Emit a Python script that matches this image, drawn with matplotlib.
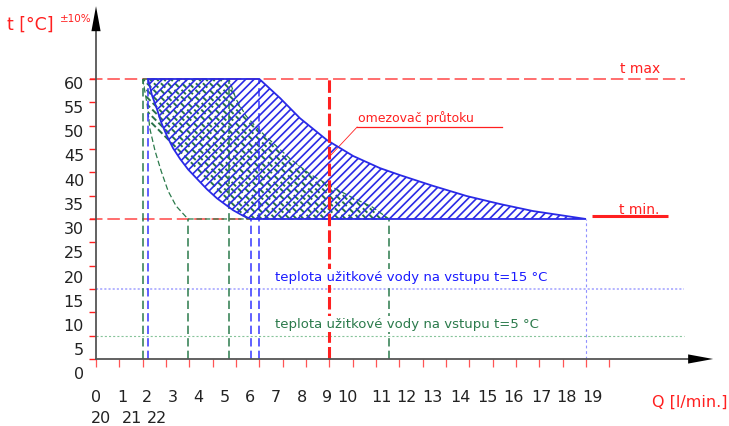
import numpy as np
import matplotlib.pyplot as plt
from matplotlib.patches import Polygon
from matplotlib.collections import LineCollection

plt.rcParams['font.family'] = ['DejaVu Sans']
plt.rcParams['hatch.linewidth'] = 1.2
plt.rcParams['lines.scale_dashes'] = False

# osy
y_ticks = np.arange(0, 65, 5)
y_labels = ['60', '55', '50', '45', '40', '35', '30', '25', '20', '15', '10', '5', '0']
x_ticks = np.arange(0, 23)
x_labels_row1 = [str(i) for i in range(20)]
x_labels_row2 = ['20', '21', '22']

t_max = 60
t_min = 30
t_in_15 = 15
t_in_5 = 5
q_limit = 10  # omezovac prutoku

# modra oblast (vstup 15 °C)
blue_left_x = [2.23, 2.40, 2.61, 2.80, 3.04, 3.30, 3.60, 3.95, 4.33, 4.75, 5.19, 5.87, 6.30, 6.64]
blue_left_y = [60, 56.5, 53.6, 50.6, 47.8, 45.2, 42.9, 40.6, 38.6, 36.4, 34.4, 31.9, 30.7, 30]
blue_right_x = [7.0, 7.89, 8.74, 9.90, 11.02, 12.17, 13.03, 14.44, 15.90, 17.32, 18.73, 21.0]
blue_right_y = [60, 55.9, 51.6, 46.9, 43.5, 40.9, 39.4, 37.1, 34.9, 33.2, 31.7, 30]

# zelena oblast (vstup 5 °C)
green_left_x = [2.0, 2.19, 2.31, 2.53, 2.79, 3.09, 3.43, 3.94]
green_left_y = [60, 54.6, 49.3, 44.6, 40.3, 36.0, 32.8, 30]
green_right_x = [5.7, 6.0, 6.43, 6.94, 7.54, 8.32, 9.17, 10.03, 11.02, 11.83, 12.56]
green_right_y = [60, 55.7, 52.1, 49.3, 46.5, 42.9, 39.6, 37.1, 34.5, 32.6, 30]

RED = '#ff2020'
LRED = '#ff5555'
BLUE = '#2a2ae6'
GREEN = '#2b7a4b'

fig = plt.figure(figsize=(7.29, 4.27), dpi=100)
ax = fig.add_axes([0, 0, 1, 1])
ax.set_xlim(-4.115, 27.13)
ax.set_ylim(-14.36, 77.14)

for s in ['top', 'right']:
    ax.spines[s].set_visible(False)
ax.spines['left'].set_position(('data', 0))
ax.spines['bottom'].set_position(('data', 0))
ax.spines['left'].set_bounds(0, 72)
ax.spines['bottom'].set_bounds(0, 25.6)
for s in ['left', 'bottom']:
    ax.spines[s].set_color('#555555')
    ax.spines[s].set_linewidth(1.3)
    ax.spines[s].set_zorder(6)

ax.set_yticks(y_ticks)
ax.set_xticks(x_ticks)
ax.tick_params(axis='y', direction='out', length=5, width=1.0, color=RED,
               labelleft=False)
ax.tick_params(axis='x', direction='out', length=6, width=0.9, color=LRED,
               labelbottom=False)

# sipky os
head = dict(arrowstyle='-|>,head_length=18,head_width=3.3', mutation_scale=1,
            color='black', lw=0, shrinkA=0, shrinkB=0)
ax.annotate('', xy=(0, 75.6), xytext=(0, 70), arrowprops=head, zorder=7)
ax.annotate('', xy=(26.45, 0), xytext=(25.0, 0), arrowprops=head, zorder=7)

# zelena oblast - carkovane srafovani
gx = green_left_x + green_right_x[::-1]
gy = green_left_y + green_right_y[::-1]
green_poly = Polygon(np.column_stack([gx, gy]), closed=True, fill=False,
                     edgecolor=GREEN, lw=0.9, linestyle=(0, (4, 2)), zorder=2)
ax.add_patch(green_poly)
segs = [[(c - 0.1, 60.5), (c + 6.1, 29.5)] for c in np.arange(0.5, 14, 0.3)]
lc = LineCollection(segs, colors='#2a7349', linewidths=1.4,
                    linestyles=[(0, (4.5, 2.2))], zorder=2)
ax.add_collection(lc)
lc.set_clip_path(green_poly)

# modra oblast
bx = blue_left_x + blue_right_x[::-1]
by = blue_left_y + blue_right_y[::-1]
blue_poly = Polygon(np.column_stack([bx, by]), closed=True, fill=False,
                    edgecolor=BLUE, hatch='////', lw=1.3, zorder=3)
ax.add_patch(blue_poly)

# t max / t min
ax.plot([-0.26, 25.25], [t_max, t_max], color=LRED, lw=1.2,
        linestyle=(0, (9, 3.5)), zorder=1)
ax.plot([-0.26, blue_left_x[-1]], [t_min, t_min], color=LRED, lw=1.2,
        linestyle=(0, (9, 3.5)), zorder=1)

# svisle cary
dash = (0, (6, 3))
for x0, y0 in [(green_left_x[0], t_max), (green_left_x[-1], t_min),
               (green_right_x[0], t_max), (green_right_x[-1], t_min)]:
    ax.plot([x0, x0], [0, y0], color=GREEN, lw=1.1, linestyle=dash, zorder=2)
for x0, y0 in [(blue_left_x[0], t_max), (blue_left_x[-1], t_min),
               (blue_right_x[0], t_max)]:
    ax.plot([x0, x0], [0, y0], color='#3535ff', lw=1.1, linestyle=dash, zorder=2)
ax.plot([blue_right_x[-1]] * 2, [0, t_min], color='#9090ff', lw=0.8,
        linestyle=(0, (2, 2)), zorder=2)
ax.plot([q_limit, q_limit], [0, t_max], color=RED, lw=2.2,
        linestyle=(0, (9, 3)), zorder=4)

# teplota na vstupu
ax.plot([0, 25.2], [t_in_15, t_in_15], color='#a8a8ff', lw=1.2,
        linestyle=(0, (1.5, 1.5)), zorder=1)
ax.plot([0, 25.2], [t_in_5, t_in_5], color='#86c49a', lw=0.8,
        linestyle=(0, (1.5, 1.5)), zorder=1)

fs = 11.5
for lab, yy in zip(y_labels, np.linspace(59.1, -3.2, 13)):
    ax.text(-0.51, yy, lab, ha='right', va='center', fontsize=fs, color='#222222')
row1_px = [96, 122, 147, 173, 198, 225, 250, 276, 302, 327, 347, 381, 406,
           432, 460, 487, 513, 541, 566, 592]
for lab, px in zip(x_labels_row1, row1_px):
    ax.text((px - 96) / 23.33, -8.14, lab, ha='center', va='center',
            fontsize=fs, color='#222222')
for lab, px in zip(x_labels_row2, [101, 132, 157]):
    ax.text((px - 96) / 23.33, -12.64, lab, ha='center', va='center',
            fontsize=fs, color='#222222')

ax.text(-3.81, 71.8, 't [°C]', ha='left', va='center', fontsize=12.5, color=RED)
ax.text(-1.54, 73.0, '±10%', ha='left', va='center', fontsize=7.5, color=RED)
ax.text(25.46, -9.0, 'Q [l/min.]', ha='center', va='center', fontsize=11.5, color=RED)

ax.text(23.32, 62.4, 't max', ha='center', va='center', fontsize=10, color=RED)
ax.text(23.27, 32.2, 't min.', ha='center', va='center', fontsize=10, color=RED)
ax.plot([21.26, 24.52], [30.6, 30.6], color=RED, lw=2.2, solid_capstyle='butt')

ax.text(11.23, 51.85, 'omezovač průtoku', ha='left', va='center', fontsize=9,
        color=RED, zorder=8)
ax.plot([11.19, 17.4], [49.7, 49.7], color=RED, lw=0.9)
ax.plot([11.19, 10.03], [49.7, 43.5], color=RED, lw=0.6)

box = dict(facecolor='white', edgecolor='none', pad=1)
ax.text(7.67, 17.6, 'teplota užitkové vody na vstupu t=15 °C', ha='left',
        va='center', fontsize=9.5, color='#1a1aff', bbox=box, zorder=8)
ax.text(7.67, 7.5, 'teplota užitkové vody na vstupu t=5 °C', ha='left',
        va='center', fontsize=9.5, color=GREEN, bbox=box, zorder=8)

fig.savefig('out.png', dpi=100)
